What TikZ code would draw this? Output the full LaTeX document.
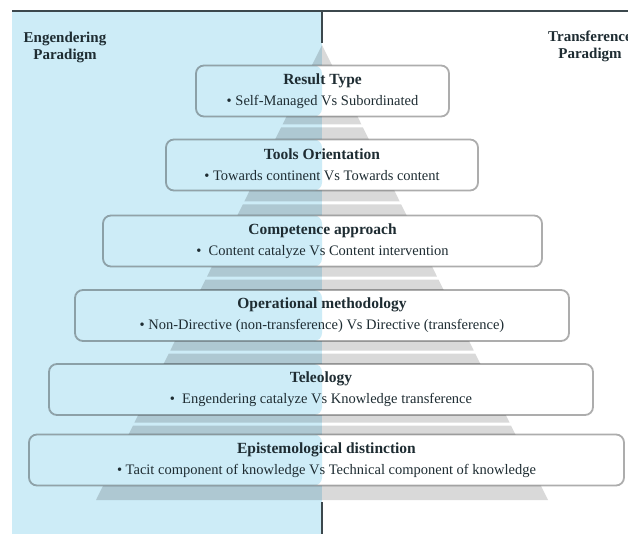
\documentclass[tikz,border=0pt]{standalone}
\usepackage{fontspec}
\setmainfont{Liberation Serif}
\definecolor{panel}{RGB}{205,236,247}
\definecolor{rulecol}{RGB}{60,72,77}
\definecolor{ink}{RGB}{30,44,50}
\begin{document}
\begin{tikzpicture}[x=1pt,y=-1pt,
  band/.style={fill=black,fill opacity=0.15},
  rulepen/.style={draw=rulecol,line width=2.5pt},
  tier/.style={draw=black,draw opacity=0.32,line width=1.8pt,rounded corners=8pt,
    fill=white,minimum height=51pt,inner sep=0pt,align=center,text=ink,
    font=\fontsize{14.5}{21}\selectfont,
    path picture={\fill[panel] (path picture bounding box.north west)
      rectangle (path picture bounding box.south west -| divx);}},
  head/.style={align=center,text=ink,font=\fontsize{15}{17}\selectfont\bfseries}
]
\useasboundingbox (0,0) rectangle (628,534);
\fill[white] (0,0) rectangle (628,534);

% named points of the frame
\coordinate (divx) at (322,0);
\coordinate (ruleL) at (12,11);
\coordinate (ruleR) at (628,11);
\coordinate (divTop) at (322,11);
\coordinate (divTopEnd) at (322,43);
\coordinate (divBot) at (322,502);
\coordinate (divBotEnd) at (322,534);

% left paradigm panel
\fill[panel] (12,12) rectangle (322,534);

% segmented pyramid behind the tiers
\foreach \ya/\yb in {45/124.5, 127.5/201.5, 204.5/276.5, 279.5/350.5, 353.5/422.5, 425.5/500}{
  \pgfmathsetmacro\wa{(\ya-45)/455*226}
  \pgfmathsetmacro\wb{(\yb-45)/455*226}
  \fill[band] (322-\wa,\ya) -- (322+\wa,\ya) -- (322+\wb,\yb) -- (322-\wb,\yb) -- cycle;
}

% top rule and central divider
\draw[rulepen] (ruleL) -- (ruleR);
\draw[rulepen] (divTop) -- (divTopEnd);
\draw[rulepen] (divBot) -- (divBotEnd);

% paradigm headings
\node[head] (lefthead) at (65,47) {Engendering\\Paradigm};
\node[head] (righthead) at (590,46) {Transference\\Paradigm};

% tiers of the pyramid
\node[tier,minimum width=253pt] (result) at (322.5,91)
  {{\bfseries\fontsize{15.5}{21}\selectfont Result Type}\\\textbullet\ Self-Managed Vs Subordinated};
\node[tier,minimum width=312pt] (tools) at (322,165)
  {{\bfseries\fontsize{15.5}{21}\selectfont Tools Orientation}\\\textbullet\ Towards continent Vs Towards content};
\node[tier,minimum width=439pt] (competence) at (322.5,241)
  {{\bfseries\fontsize{15.5}{21}\selectfont Competence approach}\\\textbullet\ \ Content catalyze Vs Content intervention};
\node[tier,minimum width=494pt] (operational) at (322,315.5)
  {{\bfseries\fontsize{15.5}{21}\selectfont Operational methodology}\\\textbullet\ Non-Directive (non-transference) Vs Directive (transference)};
\node[tier,minimum width=544pt] (teleology) at (321,389.5)
  {{\bfseries\fontsize{15.5}{21}\selectfont Teleology}\\\textbullet\ \ Engendering catalyze Vs Knowledge transference};
\node[tier,minimum width=595pt] (episteme) at (326.5,460)
  {{\bfseries\fontsize{15.5}{21}\selectfont Epistemological distinction}\\\textbullet\ Tacit component of knowledge Vs Technical component of knowledge};
\end{tikzpicture}
\end{document}
